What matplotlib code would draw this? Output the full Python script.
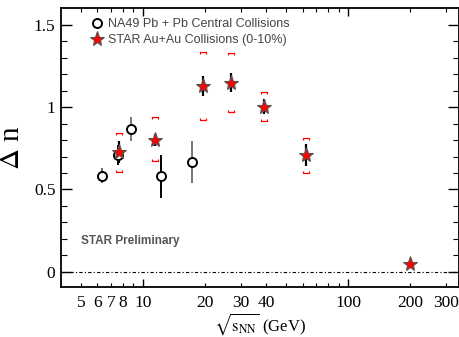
import numpy as np
import matplotlib
matplotlib.use("Agg")
import matplotlib.pyplot as plt
from matplotlib.path import Path
from matplotlib.ticker import FixedLocator, FuncFormatter

# NA49 Pb+Pb central
na49_e = [6.3, 7.6, 8.8, 12.3, 17.3]
na49_dn = [0.584, 0.71, 0.866, 0.58, 0.669]
na49_err = [0.044, 0.06, 0.072, 0.13, 0.127]
na49_err_col = ['#666666', 'black', '#777777', 'black', '#777777']

# STAR Au+Au 0-10%
star_e = [7.7, 11.5, 19.6, 27.0, 39.0, 62.4, 200.0]
star_dn = [0.726, 0.80, 1.13, 1.15, 1.004, 0.71, 0.047]
star_stat = [0.066, 0.038, 0.059, 0.058, 0.043, 0.068, 0.02]
star_sys_hi = [0.842, 0.939, 1.336, 1.328, 1.095, 0.815, None]
star_sys_lo = [0.608, 0.673, 0.921, 0.973, 0.917, 0.598, None]

xtick_labels = [5, 6, 7, 8, 10, 20, 30, 40, 100, 200, 300]

plt.rcParams['mathtext.fontset'] = 'stix'

fig = plt.figure(figsize=(4.59, 3.37), dpi=100)
ax = fig.add_axes([61/459, 1-287/337, 397.5/459, 279/337])

# zero line
ax.axhline(0, color='black', lw=0.8, ls=(0, (3, 2, 1, 2)), zorder=1)

# NA49 points
for x, y, e, c in zip(na49_e, na49_dn, na49_err, na49_err_col):
    ax.errorbar(x, y, yerr=e, fmt='none', ecolor=c, elinewidth=1.4, capsize=0, zorder=2)
ax.plot(na49_e, na49_dn, 'o', ms=6.5, mfc='white', mec='black', mew=1.4, ls='none',
        zorder=4, label='NA49 Pb + Pb Central Collisions')

# STAR systematic brackets
top_br = Path([(-1, -0.6), (-1, 0), (1, 0), (1, -0.6)],
              [Path.MOVETO, Path.LINETO, Path.LINETO, Path.LINETO])
bot_br = Path([(-1, 0.6), (-1, 0), (1, 0), (1, 0.6)],
              [Path.MOVETO, Path.LINETO, Path.LINETO, Path.LINETO])
sx = [x for x, h in zip(star_e, star_sys_hi) if h is not None]
shi = [h for h in star_sys_hi if h is not None]
slo = [l for l in star_sys_lo if l is not None]
ax.plot(sx, shi, marker=top_br, ms=4.5, mfc='none', mec='red', mew=0.9, ls='none', zorder=3)
ax.plot(sx, slo, marker=bot_br, ms=4.5, mfc='none', mec='red', mew=0.9, ls='none', zorder=3)

ax.errorbar(star_e, star_dn, yerr=star_stat, fmt='none', ecolor='black', elinewidth=1.6,
            capsize=0, zorder=3)
ax.plot(star_e, star_dn, '*', ms=11, mfc='red', mec='#555555', mew=0.8, ls='none',
        zorder=5, label='STAR Au+Au Collisions (0-10%)')

ax.set_xscale('log')
ax.set_xlim(4, 345)
ax.set_ylim(-0.093, 1.603)

ax.xaxis.set_major_locator(FixedLocator([10, 100]))
minor = [m * d for d in (1, 10, 100) for m in range(2, 10) if 4 < m * d < 345]
ax.xaxis.set_minor_locator(FixedLocator(minor))
fmt = FuncFormatter(lambda v, p: '%g' % v if round(v) in xtick_labels else '')
ax.xaxis.set_major_formatter(fmt)
ax.xaxis.set_minor_formatter(fmt)

ax.yaxis.set_major_locator(FixedLocator([0, 0.5, 1.0, 1.5]))
ax.yaxis.set_minor_locator(FixedLocator(np.arange(0.1, 1.6, 0.1)))
ax.yaxis.set_major_formatter(FuncFormatter(lambda v, p: '%g' % v))

ax.tick_params(axis='x', which='major', direction='in', length=5.5, width=1.0, top=True,
               labelsize=12.5, pad=6)
ax.tick_params(axis='x', which='minor', direction='in', length=3, width=0.8, top=True,
               labelsize=12.5, pad=6)
ax.tick_params(axis='y', which='major', direction='in', length=8, width=1.0, right=True,
               labelsize=12.5, pad=4)
ax.tick_params(axis='y', which='minor', direction='in', length=4, width=0.8, right=True)
for lab in ax.get_xticklabels(which='both') + ax.get_yticklabels():
    lab.set_fontfamily('Liberation Serif')
for s in ax.spines.values():
    s.set_linewidth(1.3)

ax.set_ylabel(r'$\Delta$ n', fontsize=21, family='Liberation Serif', labelpad=6)
ax.set_xlabel(r'$\sqrt{\mathrm{s}_{\mathrm{NN}}}$ (GeV)', fontsize=12, family='Liberation Serif',
              labelpad=0)

leg = ax.legend(loc='upper left', bbox_to_anchor=(0.05, 0.995), frameon=False,
                prop={'family': 'Liberation Sans', 'size': 9}, handletextpad=0.3,
                labelspacing=0.3, borderaxespad=0.3, handlelength=1.2)
for t in leg.get_texts():
    t.set_color('#444444')

ax.text(0.05, 0.155, 'STAR Preliminary', transform=ax.transAxes, fontsize=8.5,
        fontweight='bold', family='Liberation Sans', color='#555555')

fig.savefig('out.png', dpi=100)
